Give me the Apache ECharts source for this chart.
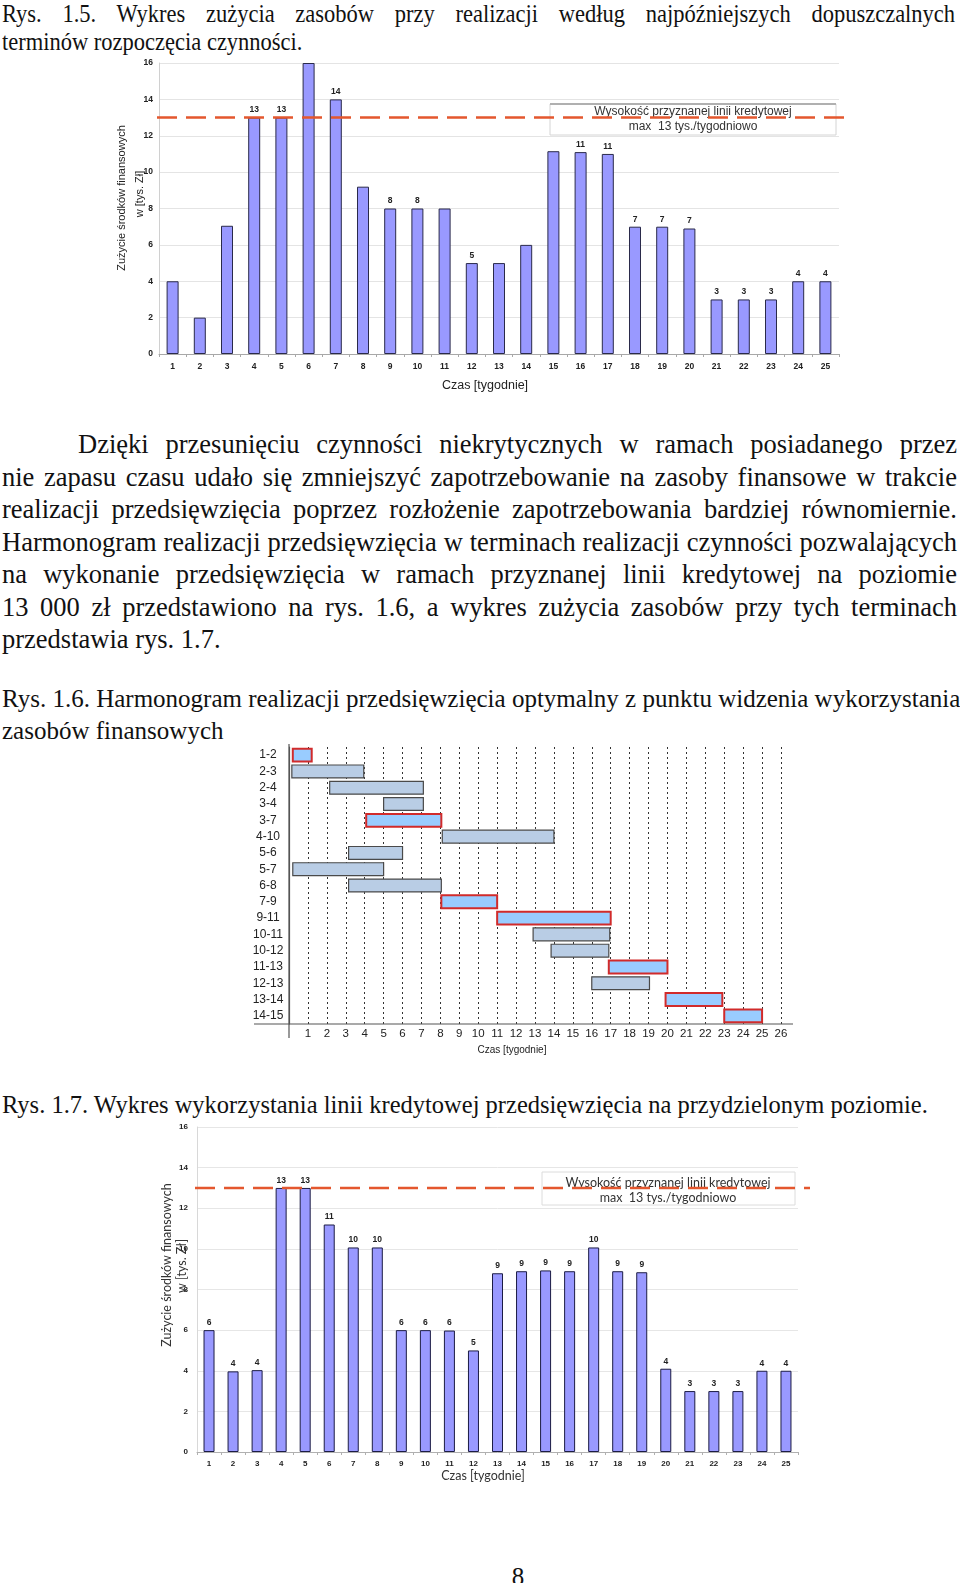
<!DOCTYPE html>
<html><head><meta charset="utf-8">
<script src="https://cdn.jsdelivr.net/npm/echarts@6/dist/echarts.min.js"></script>
<style>
html,body{margin:0;padding:0;background:#fff;}
body{width:960px;height:1583px;position:relative;overflow:hidden;}
.t{position:absolute;font-family:"Liberation Serif","Times New Roman",serif;font-size:25px;color:#111;line-height:32.5px;}
.j{text-align:justify;text-align-last:justify;white-space:nowrap;}
.l{text-align:left;white-space:nowrap;}
#chart{position:absolute;left:0;top:0;width:960px;height:1583px;}
</style></head>
<body>
<div class="t" style="left:2px;top:0px;width:1059px;line-height:27.5px;transform:scaleX(0.9);transform-origin:0 0;">
  <div class="j">Rys. 1.5. Wykres zużycia zasobów przy realizacji według najpóźniejszych dopuszczalnych</div>
  <div class="l">terminów rozpoczęcia czynności.</div>
</div>
<div class="t" style="left:2px;top:428px;width:955px;font-size:26.5px;">
  <div class="j" style="padding-left:76px;">Dzięki przesunięciu czynności niekrytycznych w ramach posiadanego przez</div>
  <div class="j">nie zapasu czasu udało się zmniejszyć zapotrzebowanie na zasoby finansowe w trakcie</div>
  <div class="j">realizacji przedsięwzięcia poprzez rozłożenie zapotrzebowania bardziej równomiernie.</div>
  <div class="j">Harmonogram realizacji przedsięwzięcia w terminach realizacji czynności pozwalających</div>
  <div class="j">na wykonanie przedsięwzięcia w ramach przyznanej linii kredytowej na poziomie</div>
  <div class="j">13 000 zł przedstawiono na rys. 1.6, a wykres zużycia zasobów przy tych terminach</div>
  <div class="l">przedstawia rys. 1.7.</div>
</div>
<div class="t" style="left:2px;top:683px;width:955px;line-height:31.5px;">
  <div class="j">Rys. 1.6. Harmonogram realizacji przedsięwzięcia optymalny z punktu widzenia wykorzystania</div>
  <div class="l">zasobów finansowych</div>
</div>
<div class="t" style="left:2px;top:1089px;width:955px;font-size:24.5px;">
  <div class="l">Rys. 1.7. Wykres wykorzystania linii kredytowej przedsięwzięcia na przydzielonym poziomie.</div>
</div>
<div class="t" style="left:505px;top:1561px;width:26px;text-align:center;">8</div>
<div id="chart"></div>
<script>
// ---- data ----
var weeks = ['1','2','3','4','5','6','7','8','9','10','11','12','13','14','15','16','17','18','19','20','21','22','23','24','25'];
var usageLate = [4, 2, 7.05, 13, 13, 16, 14, 9.2, 8, 8, 8, 5, 5, 6, 11.15, 11.1, 11, 7, 7, 6.9, 3, 3, 3, 4, 4];
var usageLateLabels = ['', '', '', '13', '13', '', '14', '', '8', '8', '', '5', '', '', '', '11', '11', '7', '7', '7', '3', '3', '3', '4', '4'];
var usageOpt = [6, 3.97, 4.03, 13, 13, 11.2, 10.07, 10.07, 6, 6, 5.98, 5, 8.8, 8.9, 8.94, 8.9, 10.07, 8.9, 8.85, 4.1, 3, 3, 3, 4, 4];
var usageOptLabels = ['6', '4', '4', '13', '13', '11', '10', '10', '6', '6', '6', '5', '9', '9', '9', '9', '10', '9', '9', '4', '3', '3', '3', '4', '4'];
var creditLimit = 13;
var yTicks = [0, 16, 2];
var ganttTasks = ['1-2','2-3','2-4','3-4','3-7','4-10','5-6','5-7','6-8','7-9','9-11','10-11','10-12','11-13','12-13','13-14','14-15'];
var ganttStart = [0.2, 0.15, 2.15, 5.0, 4.08, 8.1, 3.15, 0.2, 3.15, 8.05, 11.0, 12.9, 13.85, 16.9, 16.0, 19.9, 23.0];
var ganttEnd   = [1.2, 3.95, 7.1, 7.1, 8.05, 14.0, 6.0, 5.0, 8.05, 11.0, 17.0, 16.95, 16.9, 20.0, 19.05, 22.9, 25.0];
var ganttCritical = [1, 0, 0, 0, 1, 0, 0, 0, 0, 1, 1, 0, 0, 1, 0, 1, 1];
var weekAxisMax = 26;

// ---- build ----
var SANS = '"Liberation Sans", Arial, sans-serif';
var CAL = 'Lato, "Open Sans", sans-serif';
var ganttData = ganttTasks.map(function (t, i) { return [i, ganttStart[i], ganttEnd[i], ganttCritical[i]]; });

function barSeries(xi, values, labels, bw, border) {
  return {
    type: 'bar', xAxisIndex: xi, yAxisIndex: xi, data: values, barWidth: bw, z: 3,
    itemStyle: { color: '#9999ff', borderColor: border, borderWidth: 1 },
    label: { show: true, position: 'top', distance: 3, fontFamily: SANS, fontSize: 8.5, fontWeight: 'bold', color: '#222',
      formatter: function (p) { return labels[p.dataIndex]; } }
  };
}
function limitSeries(xi) {
  return {
    type: 'line', xAxisIndex: xi, yAxisIndex: xi, data: [[0, creditLimit], [1, creditLimit]],
    symbol: 'none', silent: true, z: 6,
    lineStyle: { color: '#e4572e', width: 2.5, type: [20, 9] }
  };
}
function hiddenAxes(grid) {
  return {
    x: { type: 'value', gridIndex: grid, min: 0, max: 1, show: false },
    y: { type: 'value', gridIndex: grid, min: yTicks[0], max: yTicks[1], show: false }
  };
}
var h1 = hiddenAxes(1), h4 = hiddenAxes(4);

var option = {
  animation: false,
  backgroundColor: 'transparent',
  grid: [
    { left: 159, top: 63, width: 680, height: 291 },
    { left: 157, top: 63, width: 696, height: 291 },
    { left: 289, top: 747, width: 492, height: 277 },
    { left: 197, top: 1127, width: 601, height: 325 },
    { left: 195, top: 1127, width: 615, height: 325 }
  ],
  xAxis: [
    { type: 'category', gridIndex: 0, data: weeks,
      axisLine: { lineStyle: { color: '#a8a8a8' } }, axisTick: { show: true, length: 3, lineStyle: { color: '#a8a8a8' } },
      axisLabel: { fontFamily: SANS, fontSize: 8.5, fontWeight: 'bold', color: '#222', margin: 8 } },
    h1.x,
    { type: 'value', gridIndex: 2, min: 0, max: weekAxisMax, interval: 1,
      axisLine: { lineStyle: { color: '#555', width: 1.2 } }, axisTick: { show: false },
      splitLine: { show: true, lineStyle: { color: '#333', type: [2, 3], width: 1 } },
      axisLabel: { fontFamily: SANS, fontSize: 11.5, color: '#222', margin: 4,
        formatter: function (v) { return v === 0 ? '' : String(v); } } },
    { type: 'category', gridIndex: 3, data: weeks,
      axisLine: { lineStyle: { color: '#b0b0b0' } }, axisTick: { show: true, length: 3, lineStyle: { color: '#b0b0b0' } },
      axisLabel: { fontFamily: SANS, fontSize: 8, fontWeight: 'bold', color: '#222', margin: 8 } },
    h4.x
  ],
  yAxis: [
    { type: 'value', gridIndex: 0, min: yTicks[0], max: yTicks[1], interval: yTicks[2],
      axisLine: { show: true, lineStyle: { color: '#d0d0d0' } }, axisTick: { show: false },
      splitLine: { lineStyle: { color: '#e4e4e4' } },
      axisLabel: { fontFamily: SANS, fontSize: 8.5, fontWeight: 'bold', color: '#222', margin: 6 } },
    h1.y,
    { type: 'category', gridIndex: 2, data: ganttTasks, inverse: true,
      axisLine: { show: true, lineStyle: { color: '#555', width: 1.2 } }, axisTick: { show: false },
      axisLabel: { fontFamily: SANS, fontSize: 12, color: '#222', align: 'center', margin: 21 } },
    { type: 'value', gridIndex: 3, min: yTicks[0], max: yTicks[1], interval: yTicks[2],
      axisLine: { show: true, lineStyle: { color: '#d8d8d8' } }, axisTick: { show: false },
      splitLine: { lineStyle: { color: '#e6e6e6' } },
      axisLabel: { fontFamily: SANS, fontSize: 8, fontWeight: 'bold', color: '#222', margin: 9 } },
    h4.y
  ],
  series: [
    barSeries(0, usageLate, usageLateLabels, 12, '#2a2a4a'),
    limitSeries(1),
    {
      type: 'custom', xAxisIndex: 2, yAxisIndex: 2, data: ganttData, z: 4,
      encode: { x: [1, 2], y: 0 },
      renderItem: function (params, api) {
        var cat = api.value(0), s = api.value(1), e = api.value(2), crit = api.value(3);
        var p0 = api.coord([s, cat]), p1 = api.coord([e, cat]);
        var h = api.size([0, 1])[1] * 0.79;
        return {
          type: 'rect',
          shape: { x: p0[0], y: p0[1] - h / 2, width: p1[0] - p0[0], height: h },
          style: { fill: crit ? '#99ccff' : '#b9cde5', stroke: crit ? '#d12b2b' : '#4a4a4a', lineWidth: crit ? 2 : 1.2 }
        };
      }
    },
    barSeries(3, usageOpt, usageOptLabels, 11, '#1c1c44'),
    limitSeries(4)
  ],
  graphic: [
    // chart 1 texts
    { type: 'text', z: 10, x: 122, y: 198, rotation: Math.PI / 2,
      style: { text: 'Zużycie środków finansowych', font: '11px ' + SANS, fill: '#222', textAlign: 'center', textVerticalAlign: 'middle' } },
    { type: 'text', z: 10, x: 140, y: 194, rotation: Math.PI / 2,
      style: { text: 'w [tys. Zł]', font: '11px ' + SANS, fill: '#222', textAlign: 'center', textVerticalAlign: 'middle' } },
    { type: 'text', z: 10, x: 485, y: 386,
      style: { text: 'Czas [tygodnie]', font: '12.5px ' + SANS, fill: '#222', textAlign: 'center', textVerticalAlign: 'middle' } },
    { type: 'rect', z: 1, shape: { x: 550, y: 104, width: 286, height: 31 },
      style: { fill: '#fff', stroke: '#d4d4d4', lineWidth: 1 } },
    { type: 'line', z: 1, shape: { x1: 550, y1: 104, x2: 836, y2: 104 }, style: { stroke: '#b0b0b0', lineWidth: 2 } },
    { type: 'text', z: 1, x: 693, y: 112,
      style: { text: 'Wysokość przyznanej linii kredytowej', font: '12px ' + SANS, fill: '#333', textAlign: 'center', textVerticalAlign: 'middle' } },
    { type: 'text', z: 1, x: 693, y: 127,
      style: { text: 'max  13 tys./tygodniowo', font: '12px ' + SANS, fill: '#333', textAlign: 'center', textVerticalAlign: 'middle' } },
    // gantt axis extensions and title
    { type: 'line', z: 3, shape: { x1: 254, y1: 1024, x2: 793, y2: 1024 }, style: { stroke: '#555', lineWidth: 1.2 } },
    { type: 'line', z: 3, shape: { x1: 289, y1: 744, x2: 289, y2: 1038 }, style: { stroke: '#555', lineWidth: 1.2 } },
    { type: 'text', z: 10, x: 512, y: 1050,
      style: { text: 'Czas [tygodnie]', font: '10px ' + SANS, fill: '#222', textAlign: 'center', textVerticalAlign: 'middle' } },
    // chart 3 texts
    { type: 'text', z: 10, x: 167, y: 1265, rotation: Math.PI / 2,
      style: { text: 'Zużycie środków finansowych', font: '12.5px ' + CAL, fill: '#333', textAlign: 'center', textVerticalAlign: 'middle' } },
    { type: 'text', z: 10, x: 182, y: 1266, rotation: Math.PI / 2,
      style: { text: 'w [tys. Zł]', font: '12.5px ' + CAL, fill: '#333', textAlign: 'center', textVerticalAlign: 'middle' } },
    { type: 'text', z: 10, x: 483, y: 1476,
      style: { text: 'Czas [tygodnie]', font: '12.5px ' + CAL, fill: '#333', textAlign: 'center', textVerticalAlign: 'middle' } },
    { type: 'rect', z: 1, shape: { x: 542, y: 1172, width: 253, height: 33 },
      style: { fill: '#fff', stroke: '#dcdcdc', lineWidth: 1 } },
    { type: 'text', z: 1, x: 668, y: 1183,
      style: { text: 'Wysokość przyznanej linii kredytowej', font: '12.5px ' + CAL, fill: '#333', textAlign: 'center', textVerticalAlign: 'middle' } },
    { type: 'text', z: 1, x: 668, y: 1198,
      style: { text: 'max  13 tys./tygodniowo', font: '12.5px ' + CAL, fill: '#333', textAlign: 'center', textVerticalAlign: 'middle' } }
  ]
};
var chart = echarts.init(document.getElementById('chart'), null, { renderer: 'canvas' });
chart.setOption(option);
</script>
</body></html>
